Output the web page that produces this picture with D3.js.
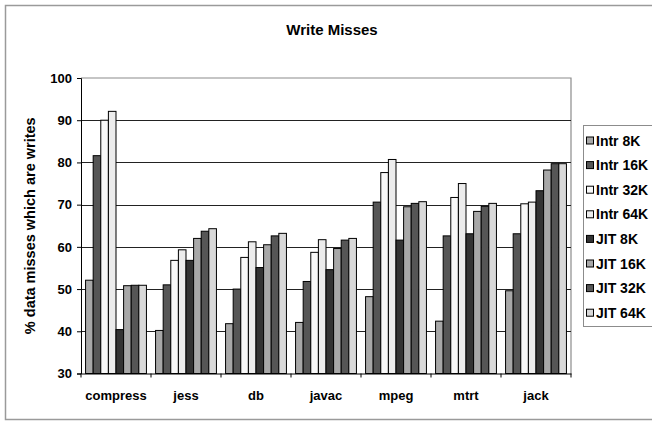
<!DOCTYPE html>
<html><head><meta charset="utf-8">
<script src="https://cdn.jsdelivr.net/npm/d3@7"></script>
<style>body{margin:0;background:#fff}svg text{font-family:"Liberation Sans",Arial,sans-serif;font-weight:bold;fill:#000}</style>
</head><body><svg id="c" width="652" height="421"></svg>
<script>
const categories = ["compress","jess","db","javac","mpeg","mtrt","jack"];
const seriesNames = ["Intr 8K","Intr 16K","Intr 32K","Intr 64K","JIT 8K","JIT 16K","JIT 32K","JIT 64K"];
const intr8K  = [52.1, 40.2, 41.8, 42.1, 48.2, 42.4, 49.6];
const intr16K = [81.6, 51.0, 50.0, 51.8, 70.6, 62.6, 63.1];
const intr32K = [90.0, 56.8, 57.5, 58.7, 77.6, 71.7, 70.2];
const intr64K = [92.1, 59.3, 61.2, 61.7, 80.7, 75.0, 70.6];
const jit8K   = [40.4, 56.8, 55.1, 54.6, 61.6, 63.1, 73.3];
const jit16K  = [50.8, 62.0, 60.5, 59.6, 69.5, 68.4, 78.2];
const jit32K  = [50.9, 63.7, 62.6, 61.6, 70.3, 69.6, 79.7];
const jit64K  = [50.9, 64.3, 63.2, 62.0, 70.7, 70.3, 79.7];
const seriesValues = [intr8K, intr16K, intr32K, intr64K, jit8K, jit16K, jit32K, jit64K];
const colors = ["#a8a8a8","#565656","#f8f8f8","#ececec","#333333","#a8a8a8","#565656","#d9d9d9"];
const yTicks = [30,40,50,60,70,80,90,100];

const svg = d3.select("#c");
// outer chart border
svg.append("rect").attr("x",5.5).attr("y",5.5).attr("width",660).attr("height",414)
  .attr("fill","none").attr("stroke","#9a9a9a").attr("stroke-width",1.5);

const L=81, R=571, T=78, B=373.5;
const x = d3.scaleBand().domain(categories).range([L,R]).padding(0);
const xs = d3.scaleBand().domain(seriesNames).range([0,x.bandwidth()]).paddingInner(0).paddingOuter(0.6);
const y = d3.scaleLinear().domain([30,100]).range([B,T]);

// plot area border (top/right gray)
svg.append("path").attr("d",`M${L},${T}H${R}V${B}`).attr("fill","none").attr("stroke","#8c8c8c").attr("stroke-width",1.2);
// gridlines
svg.append("g").selectAll("line").data(yTicks.filter(t=>t>30&&t<100)).join("line")
  .attr("x1",L).attr("x2",R).attr("y1",d=>Math.round(y(d))+0.5).attr("y2",d=>Math.round(y(d))+0.5)
  .attr("stroke","#222").attr("stroke-width",1);

// bars
const g = svg.append("g");
categories.forEach((c,ci)=>{
  seriesNames.forEach((s,si)=>{
    const v = seriesValues[si][ci];
    g.append("rect").attr("x",x(c)+xs(s)).attr("width",xs.bandwidth())
      .attr("y",y(v)).attr("height",B-y(v))
      .attr("fill",colors[si]).attr("stroke","#000").attr("stroke-width",1);
  });
});

// y axis
const ya = svg.append("g").attr("transform",`translate(${L},0)`)
  .call(d3.axisLeft(y).tickValues(yTicks).tickSize(4).tickPadding(5).tickFormat(d3.format("d")));
ya.select(".domain").attr("stroke","#000");
ya.selectAll(".tick line").attr("stroke","#000");
ya.selectAll("text").attr("font-size",13).attr("font-family","Liberation Sans, Arial").attr("font-weight","bold");

// x axis
const xa = svg.append("g").attr("transform",`translate(0,${B})`)
  .call(d3.axisBottom(x).tickSize(0).tickPadding(17));
xa.select(".domain").attr("stroke","#000");
xa.selectAll("text").attr("font-size",13).attr("font-family","Liberation Sans, Arial").attr("font-weight","bold");
// boundary ticks
svg.append("g").selectAll("line").data(categories.concat([null])).join("line")
  .attr("x1",(d,i)=>L+i*x.step()).attr("x2",(d,i)=>L+i*x.step())
  .attr("y1",B).attr("y2",B+4).attr("stroke","#000");

// title
svg.append("text").attr("x",332).attr("y",35).attr("text-anchor","middle").attr("font-size",15).text("Write Misses");
// y label
svg.append("text").attr("transform",`translate(35,${(T+B)/2}) rotate(-90)`).attr("text-anchor","middle")
  .attr("font-size",14.5).text("% data misses which are writes");

// legend
const lg = svg.append("g");
lg.append("rect").attr("x",583.5).attr("y",125.5).attr("width",80).attr("height",201)
  .attr("fill","#fff").attr("stroke","#8c8c8c").attr("stroke-width",1);
seriesNames.forEach((s,i)=>{
  const cy = 140.5 + i*24.6;
  lg.append("rect").attr("x",586.5).attr("y",cy-3.5).attr("width",7).attr("height",7)
    .attr("fill",colors[i]).attr("stroke","#000").attr("stroke-width",1);
  lg.append("text").attr("x",596).attr("y",cy+5).attr("font-size",14).text(s);
});
</script></body></html>
